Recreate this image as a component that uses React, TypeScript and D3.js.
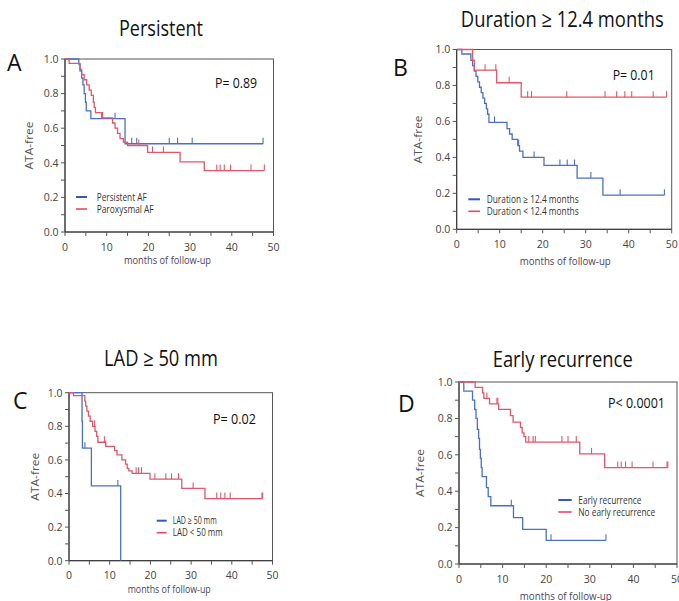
import React from "react";
import * as d3 from "d3";

// ---------- data ----------
const xTickValues = [0, 10, 20, 30, 40, 50];
const xMinorTicks = [0, 5, 10, 15, 20, 25, 30, 35, 40, 45, 50];
const yTickValues = [0, 0.2, 0.4, 0.6, 0.8, 1.0];
const yMinorTicks = [0, 0.1, 0.2, 0.3, 0.4, 0.5, 0.6, 0.7, 0.8, 0.9, 1.0];

const panelTitles = ["Persistent", "Duration \u2265 12.4 months", "LAD \u2265 50 mm", "Early recurrence"];
const panelLetters = ["A", "B", "C", "D"];
const pValues = ["P= 0.89", "P= 0.01", "P= 0.02", "P< 0.0001"];
const blueLabels = ["Persistent AF", "Duration \u2265 12.4 months", "LAD \u2265  50 mm", "Early recurrence"];
const redLabels = ["Paroxysmal AF", "Duration < 12.4 months", "LAD < 50 mm", "No early recurrence"];

// Kaplan-Meier steps: [month, survival after event]
const persistentSteps: [number, number][] = [
  [3.3, 0.97], [3.6, 0.93], [4.0, 0.89], [4.3, 0.85], [4.6, 0.8], [4.9, 0.75], [5.1, 0.7], [6.2, 0.655], [14.4, 0.51],
];
const persistentEnd = 47.5;
const persistentCensor = [8.8, 12.0, 16.0, 17.2, 25.0, 27.0, 30.5, 47.5];

const paroxysmalSteps: [number, number][] = [
  [1.0, 0.975], [3.6, 0.94], [4.0, 0.91], [4.6, 0.88], [5.2, 0.85], [5.8, 0.82], [6.3, 0.79], [6.8, 0.75],
  [7.0, 0.72], [7.3, 0.69], [9.0, 0.66], [11.4, 0.63], [12.0, 0.6], [12.6, 0.57], [13.2, 0.54], [14.0, 0.52],
  [15.0, 0.5], [19.8, 0.46], [27.6, 0.405], [33.4, 0.355],
];
const paroxysmalEnd = 47.8;
const paroxysmalCensor = [17.7, 21.0, 23.6, 36.4, 37.2, 38.2, 39.7, 44.6, 47.8];

const longDurationSteps: [number, number][] = [
  [1.2, 0.975], [3.3, 0.94], [3.7, 0.91], [4.1, 0.88], [4.5, 0.85], [4.9, 0.82], [5.3, 0.79], [5.7, 0.76],
  [6.1, 0.73], [6.5, 0.7], [6.9, 0.67], [7.2, 0.64], [7.5, 0.595], [11.7, 0.56], [12.3, 0.53], [12.9, 0.5],
  [14.2, 0.465], [14.6, 0.435], [15.4, 0.4], [20.3, 0.355], [28.0, 0.285], [34.0, 0.19],
];
const longDurationEnd = 48.3;
const longDurationCensor = [8.8, 14.4, 18.0, 24.0, 25.7, 27.4, 31.2, 38.0, 48.3];

const shortDurationSteps: [number, number][] = [
  [3.7, 0.94], [4.1, 0.885], [9.3, 0.815], [15.0, 0.735],
];
const shortDurationEnd = 48.8;
const shortDurationCensor = [6.6, 9.1, 12.2, 16.5, 17.4, 25.6, 34.5, 37.2, 39.1, 40.7, 45.7, 48.8];

const ladHighSteps: [number, number][] = [
  [3.2, 0.83], [3.3, 0.67], [5.5, 0.445], [12.7, 0.0],
];
const ladHighEnd = 12.7;
const ladHighCensor = [3.9, 12.0];

const ladLowSteps: [number, number][] = [
  [1.1, 0.982], [3.9, 0.95], [4.1, 0.92], [4.4, 0.89], [4.8, 0.86], [5.2, 0.83], [5.8, 0.8], [6.4, 0.77],
  [6.8, 0.74], [7.1, 0.705], [9.0, 0.68], [11.2, 0.655], [11.8, 0.63], [13.0, 0.6], [13.9, 0.575],
  [14.3, 0.55], [14.7, 0.535], [15.5, 0.52], [19.9, 0.485], [27.7, 0.43], [33.4, 0.37],
];
const ladLowEnd = 47.6;
const ladLowCensor = [6.3, 8.7, 9.0, 16.5, 17.1, 17.8, 21.1, 23.8, 25.2, 26.9, 30.5, 36.3, 37.3, 38.3, 39.6, 47.4, 47.6];

const earlySteps: [number, number][] = [
  [1.1, 0.95], [3.1, 0.9], [3.6, 0.85], [3.9, 0.8], [4.2, 0.74], [4.5, 0.69], [4.7, 0.63], [4.9, 0.58],
  [5.1, 0.53], [5.3, 0.48], [6.3, 0.42], [6.7, 0.37], [7.3, 0.32], [12.5, 0.255], [14.6, 0.19], [20.0, 0.13],
];
const earlyEnd = 33.7;
const earlyCensor = [12.0, 21.1, 33.7];

const noEarlySteps: [number, number][] = [
  [3.7, 0.97], [5.4, 0.94], [5.7, 0.91], [7.0, 0.88], [9.1, 0.85], [11.8, 0.815], [12.4, 0.78],
  [14.1, 0.75], [14.5, 0.72], [14.9, 0.7], [15.3, 0.67], [27.7, 0.605], [33.4, 0.53],
];
const noEarlyEnd = 47.9;
const noEarlyCensor = [6.4, 8.7, 8.9, 16.0, 17.0, 17.5, 23.6, 25.0, 26.9, 30.4, 36.4, 37.2, 38.2, 39.7, 44.5, 47.7, 47.9];

// ---------- layout ----------
const BLUE = "#4a70c6";
const RED = "#e2566a";
const BLUE_LEG = "#3358b8";
const RED_LEG = "#e24a5e";

type Curve = { steps: [number, number][]; end: number; censor: number[] };

const layouts = [
  { x0: 65, x1: 273.5, yT: 59, yB: 232, title: [161, 36, 84], letter: [7, 71], p: [215, 88, 42],
    leg: [76, 87, 197, 96.7, 50, 57], xlab: [167.5, 264, 87], ylabX: 29.5 },
  { x0: 456.7, x1: 671.7, yT: 49.5, yB: 229.3, title: [562.3, 26.5, 203], letter: [393, 76], p: [612.7, 80, 42],
    leg: [468.3, 480, 199.3, 486.7, 92, 92], xlab: [565.3, 265, 91], ylabX: 418 },
  { x0: 69, x1: 272.5, yT: 392.7, yB: 560.7, title: [161, 366, 114], letter: [13, 409], p: [213, 424, 43],
    leg: [156.7, 166.7, 520.7, 172.7, 44, 50], xlab: [169.2, 593, 83], ylabX: 35 },
  { x0: 459, x1: 677, yT: 382, yB: 564, title: [562.7, 366.5, 140], letter: [398, 412], p: [608, 408, 57],
    leg: [558.3, 571.7, 500, 578.3, 63, 77], xlab: [565.8, 600, 92], ylabX: 420 },
];

const panelCurves: [Curve, Curve][] = [
  [
    { steps: persistentSteps, end: persistentEnd, censor: persistentCensor },
    { steps: paroxysmalSteps, end: paroxysmalEnd, censor: paroxysmalCensor },
  ],
  [
    { steps: longDurationSteps, end: longDurationEnd, censor: longDurationCensor },
    { steps: shortDurationSteps, end: shortDurationEnd, censor: shortDurationCensor },
  ],
  [
    { steps: ladHighSteps, end: ladHighEnd, censor: ladHighCensor },
    { steps: ladLowSteps, end: ladLowEnd, censor: ladLowCensor },
  ],
  [
    { steps: earlySteps, end: earlyEnd, censor: earlyCensor },
    { steps: noEarlySteps, end: noEarlyEnd, censor: noEarlyCensor },
  ],
];

const FONT = "'Open Sans', 'Noto Sans', sans-serif";

function survivalAt(steps: [number, number][], t: number) {
  let s = 1;
  for (const [tt, ss] of steps) if (tt <= t) s = ss;
  return s;
}

function Panel({ i }: { i: number }) {
  const L = layouts[i];
  const x = d3.scaleLinear().domain([0, 50]).range([L.x0, L.x1]);
  const y = d3.scaleLinear().domain([0, 1]).range([L.yB, L.yT]);
  const line = d3
    .line<[number, number]>()
    .x((d) => x(d[0]))
    .y((d) => y(d[1]))
    .curve(d3.curveStepAfter);

  const curves = panelCurves[i];
  const colors = [BLUE, RED];
  const yMid = (L.yT + L.yB) / 2;

  return (
    <g>
      <text x={L.title[0]} y={L.title[1]} textAnchor="middle" fontFamily={FONT} fontSize={22}
        textLength={L.title[2]} lengthAdjust="spacingAndGlyphs" fill="#111">
        {panelTitles[i]}
      </text>
      <text x={L.letter[0]} y={L.letter[1]} fontFamily={FONT} fontSize={23} fill="#111">
        {panelLetters[i]}
      </text>
      <rect x={L.x0} y={L.yT} width={L.x1 - L.x0} height={L.yB - L.yT} fill="none" stroke="#555" strokeWidth={1} />
      <line x1={L.x0} x2={L.x0} y1={L.yT} y2={L.yB} stroke="#333" />
      <line x1={L.x0} x2={L.x1} y1={L.yB} y2={L.yB} stroke="#333" />
      {yMinorTicks.map((v) => (
        <line key={"ym" + v} x1={L.x0 - 4} x2={L.x0} y1={y(v)} y2={y(v)} stroke="#555" />
      ))}
      {yTickValues.map((v) => (
        <text key={"yl" + v} x={L.x0 - 6.5} y={y(v) + 3.8} textAnchor="end" fontFamily={FONT} fontSize={10.5} fill="#444">
          {d3.format(".1f")(v)}
        </text>
      ))}
      {xMinorTicks.map((v) => (
        <line key={"xm" + v} x1={x(v)} x2={x(v)} y1={L.yB} y2={L.yB + 4} stroke="#555" />
      ))}
      {xTickValues.map((v) => (
        <text key={"xl" + v} x={x(v)} y={L.yB + 18.5} textAnchor="middle" fontFamily={FONT} fontSize={10.5} fill="#444">
          {v}
        </text>
      ))}
      <text x={L.xlab[0]} y={L.xlab[1]} textAnchor="middle" fontFamily={FONT} fontSize={11}
        textLength={L.xlab[2]} lengthAdjust="spacingAndGlyphs" fill="#4d3f5e">
        months of follow-up
      </text>
      <text transform={`translate(${L.ylabX + 3.5},${yMid}) rotate(-90)`} textAnchor="middle" fontFamily={FONT}
        fontSize={11.5} textLength={48} lengthAdjust="spacingAndGlyphs" fill="#555">
        ATA-free
      </text>
      {curves.map((c, k) => {
        const pts: [number, number][] = [[0, 1], ...c.steps];
        const last = pts[pts.length - 1][1];
        pts.push([c.end, last]);
        return (
          <g key={"c" + k}>
            <path d={line(pts) || ""} fill="none" stroke={colors[k]} strokeWidth={1.3} />
            {c.censor.map((t, j) => {
              const s = survivalAt(c.steps, t);
              return (
                <line key={j} x1={x(t)} x2={x(t)} y1={y(s)} y2={y(s) - 6} stroke={colors[k]} strokeWidth={1.1} />
              );
            })}
          </g>
        );
      })}
      <text x={L.p[0]} y={L.p[1]} fontFamily={FONT} fontSize={14} textLength={L.p[2]} lengthAdjust="spacingAndGlyphs" fill="#111">
        {pValues[i]}
      </text>
      <line x1={L.leg[0]} x2={L.leg[1]} y1={L.leg[2]} y2={L.leg[2]} stroke={BLUE_LEG} strokeWidth={2} />
      <line x1={L.leg[0]} x2={L.leg[1]} y1={L.leg[2] + 12} y2={L.leg[2] + 12} stroke={RED_LEG} strokeWidth={1.6} />
      <text x={L.leg[3]} y={L.leg[2] + 3.5} fontFamily={FONT} fontSize={10} textLength={L.leg[4]}
        lengthAdjust="spacingAndGlyphs" fill="#333">
        {blueLabels[i]}
      </text>
      <text x={L.leg[3]} y={L.leg[2] + 15.5} fontFamily={FONT} fontSize={10} textLength={L.leg[5]}
        lengthAdjust="spacingAndGlyphs" fill="#333">
        {redLabels[i]}
      </text>
    </g>
  );
}

export default function App() {
  return (
    <svg width={679} height={601} style={{ position: "absolute", left: 0, top: 0, background: "#fff" }}>
      <rect width={679} height={601} fill="#fff" />
      {[0, 1, 2, 3].map((i) => (
        <Panel key={i} i={i} />
      ))}
    </svg>
  );
}
